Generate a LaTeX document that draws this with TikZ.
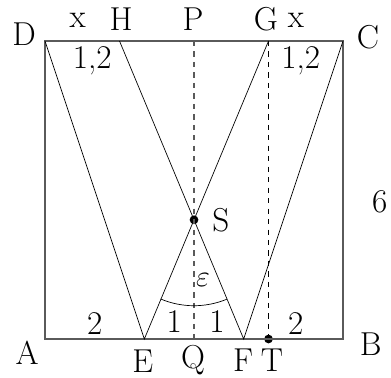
\documentclass[tikz,border=0pt]{standalone}
\usepackage{tikz}
\usetikzlibrary{calc}
\definecolor{EdgeGray}{RGB}{90, 90, 90}

\begin{document}
\begin{tikzpicture}[
    lab/.style={inner sep=0pt, font=\fontsize{19}{22}\selectfont},
    dotpt/.style={circle, fill=black, inner sep=0pt, minimum size=5pt}]
    \useasboundingbox (-0.906,-0.785) rectangle (6.966,6.825);

    % Eckpunkte
    \coordinate (A) at (0,0);
    \coordinate (B) at (6,0);
    \coordinate (C) at (6,6);
    \coordinate (D) at (0,6);
    \coordinate (E) at (2,0);
    \coordinate (Q) at (3,0);
    \coordinate (F) at (4,0);
    \coordinate (H) at (1.5,6);
    \coordinate (P) at (3,6);
    \coordinate (G) at (4.5,6);
    \node[dotpt] (S) at (3,2.4) {};
    \node[dotpt] (T) at (4.5,0) {};

    % Quadrat
    \draw[EdgeGray, line width=0.8pt] (A) -- (B) -- (C) -- (D) -- cycle;

    % Strahlen
    \draw[thin] (D) -- (E) -- (G);
    \draw[thin] (H) -- (F) -- (C);

    % Hilfslinien
    \draw[EdgeGray, dashed, line width=0.8pt] (P) -- (Q);
    \draw[dashed, thin] (G) -- (T);

    % Winkel
    \draw[thin] ($(S)+(247.2:1.73)$) arc[start angle=247.2, end angle=292.4, radius=1.73];

    % Beschriftung
    \node[lab] (lD) at (-0.42, 6.14) {D};
    \node[lab] (lC) at (6.5, 6.08) {C};
    \node[lab] (lA) at (-0.36, -0.28) {A};
    \node[lab] (lB) at (6.56, -0.1) {B};
    \node[lab] (lx1) at (0.66, 6.42) {x};
    \node[lab] (lH) at (1.53, 6.44) {H};
    \node[lab] (lP) at (2.98, 6.44) {P};
    \node[lab] (lG) at (4.45, 6.44) {G};
    \node[lab] (lx2) at (5.05, 6.42) {x};
    \node[lab] (l12a) at (0.95, 5.6) {1,2};
    \node[lab] (l12b) at (5.15, 5.6) {1,2};
    \node[lab] (lE) at (1.97, -0.45) {E};
    \node[lab] (lQ) at (2.98, -0.43) {Q};
    \node[lab] (lF) at (3.99, -0.43) {F};
    \node[lab] (lT) at (4.57, -0.43) {T};
    \node[lab] (l2a) at (1.0, 0.32) {2};
    \node[lab] (l1a) at (2.6, 0.36) {1};
    \node[lab] (l1b) at (3.46, 0.36) {1};
    \node[lab] (l2b) at (5.05, 0.32) {2};
    \node[lab] (l6) at (6.74, 2.76) {6};
    \node[lab] (lS) at (3.54, 2.4) {S};
    \node[lab] (leps) at (3.18, 1.19) {$\varepsilon$};
\end{tikzpicture}
\end{document}
